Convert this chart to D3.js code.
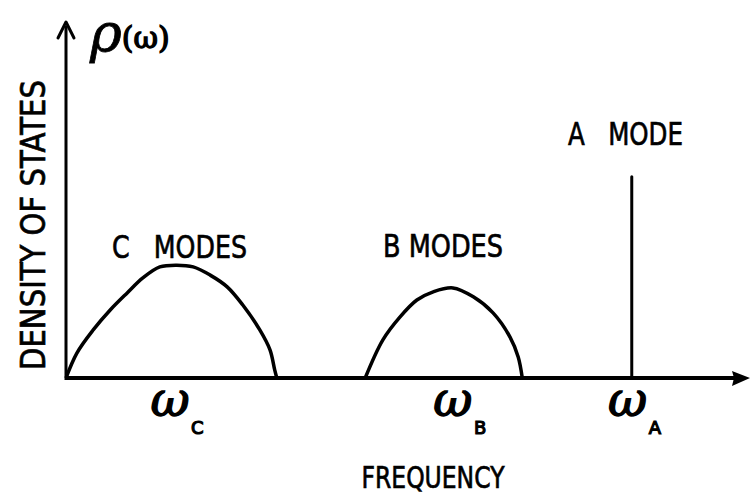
<!DOCTYPE html>
<html>
<head>
<meta charset="utf-8">
<script src="https://cdn.jsdelivr.net/npm/d3@7"></script>
<style>
  body { margin: 0; background: #fff; }
  .lbl { font-family: "DejaVu Sans", sans-serif; fill: #000; stroke: #000; stroke-width: 0.7; }
  .sym { font-family: "DejaVu Serif", serif; font-style: italic; fill: #000; stroke: #000; stroke-width: 1.4; }
</style>
</head>
<body>
<div id="chart"></div>
<script>
// band shapes (arbitrary units 0..100 on both axes)
const cFreq = [0, 1.6, 4.0, 6.5, 9.0, 11.3, 13.8, 16.3, 18.7, 21.2, 23.7, 26.0, 28.5, 30.0, 30.7, 31.0];
const cDens = [0, 7.0, 13.5, 19.1, 23.9, 28.1, 31.2, 31.7, 31.2, 28.9, 25.6, 20.5, 13.5, 7.9, 2.2, 0];
const bFreq = [44.0, 46.6, 49.1, 51.6, 54.0, 56.9, 59.9, 62.8, 65.3, 66.5, 67.1];
const bDens = [0, 10.7, 17.1, 21.9, 24.2, 25.3, 22.8, 18.3, 11.5, 5.9, 0];
const aFreq = 83.2;
const aDens = 56.5;

const modeNames = ['C', 'B', 'A'];
const modeFreq = [15.3, 56.9, 82.6];
const modeTitles = ['C   MODES', 'B MODES', 'A   MODE'];

const W = 755, H = 504;
const svg = d3.select('#chart').append('svg')
  .attr('width', W).attr('height', H);

const x = d3.scaleLinear().domain([0, 100]).range([66, 746]);
const y = d3.scaleLinear().domain([0, 100]).range([378, 22]);

const curve = d3.line()
  .x(d => x(d[0]))
  .y(d => y(d[1]))
  .curve(d3.curveCatmullRom.alpha(0.5));

// bands
svg.append('path')
  .attr('d', curve(d3.zip(cFreq, cDens)))
  .attr('fill', 'none').attr('stroke', '#000').attr('stroke-width', 3.5);
svg.append('path')
  .attr('d', curve(d3.zip(bFreq, bDens)))
  .attr('fill', 'none').attr('stroke', '#000').attr('stroke-width', 3.5);
svg.append('line')
  .attr('x1', x(aFreq)).attr('x2', x(aFreq))
  .attr('y1', y(0)).attr('y2', y(aDens))
  .attr('stroke', '#000').attr('stroke-width', 3).attr('stroke-linecap', 'round');

// axes with arrowheads
svg.append('line')
  .attr('x1', x(0)).attr('x2', x(100) - 6)
  .attr('y1', y(0)).attr('y2', y(0))
  .attr('stroke', '#000').attr('stroke-width', 4);
svg.append('path')
  .attr('d', `M${x(100) + 4},${y(0)} L${x(100) - 14},${y(0) - 7} L${x(100) - 12},${y(0)} L${x(100) - 14},${y(0) + 8} Z`)
  .attr('fill', '#000');
svg.append('line')
  .attr('x1', x(0)).attr('x2', x(0))
  .attr('y1', y(0) + 2).attr('y2', y(100) + 4)
  .attr('stroke', '#000').attr('stroke-width', 3);
svg.append('path')
  .attr('d', `M${x(0) - 8},${y(100) + 16} L${x(0)},${y(100)} L${x(0) + 8},${y(100) + 16}`)
  .attr('fill', 'none').attr('stroke', '#000').attr('stroke-width', 3)
  .attr('stroke-linejoin', 'round').attr('stroke-linecap', 'round');

// mode titles
const titlePos = [
  {x: 112, y: 258, len: 135},
  {x: 383, y: 257, len: 120},
  {x: 568, y: 145, len: 115}
];
svg.selectAll('.title')
  .data(modeTitles)
  .join('text')
  .attr('class', 'lbl title')
  .attr('x', (d, i) => titlePos[i].x)
  .attr('y', (d, i) => titlePos[i].y)
  .attr('font-size', 32)
  .attr('textLength', (d, i) => titlePos[i].len)
  .attr('lengthAdjust', 'spacingAndGlyphs')
  .style('white-space', 'pre')
  .text(d => d);

// omega tick labels
const ticks = svg.selectAll('.tick')
  .data(modeNames)
  .join('g')
  .attr('class', 'tick')
  .attr('transform', (d, i) => `translate(${x(modeFreq[i])},416)`);
ticks.append('text')
  .attr('class', 'sym')
  .attr('text-anchor', 'middle')
  .attr('font-size', 48)
  .text('ω');
ticks.append('text')
  .attr('class', 'lbl')
  .attr('x', 21).attr('y', 18)
  .attr('font-size', 18)
  .style('stroke-width', 1.2)
  .text(d => d);

// axis titles
svg.append('text')
  .attr('class', 'lbl')
  .attr('x', 433).attr('y', 488)
  .attr('text-anchor', 'middle')
  .attr('font-size', 30)
  .attr('textLength', 143)
  .attr('lengthAdjust', 'spacingAndGlyphs')
  .text('FREQUENCY');
svg.append('text')
  .attr('class', 'lbl')
  .attr('transform', 'translate(45,225) rotate(-90)')
  .attr('text-anchor', 'middle')
  .attr('font-size', 33)
  .attr('textLength', 290)
  .attr('lengthAdjust', 'spacingAndGlyphs')
  .text('DENSITY OF STATES');

// rho(omega)
const rho = svg.append('text')
  .attr('class', 'sym')
  .attr('x', 90).attr('y', 52);
rho.append('tspan').attr('font-size', 54).style('stroke-width', 0.8).text('ρ');
rho.append('tspan').attr('font-size', 30).attr('font-style', 'normal').attr('dy', -4).text('(ω)');
</script>
</body>
</html>
